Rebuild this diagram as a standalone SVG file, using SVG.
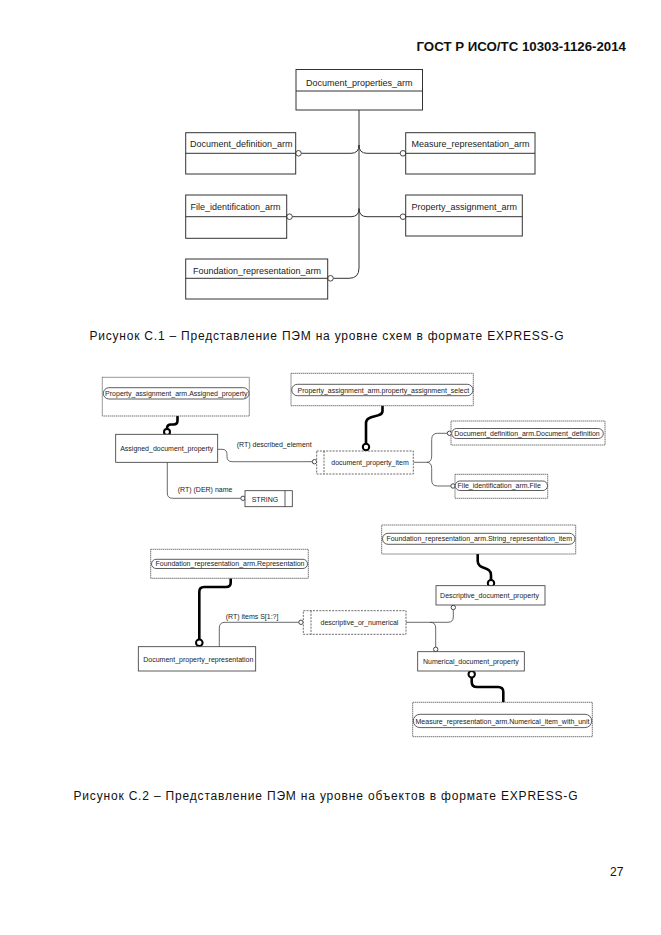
<svg xmlns="http://www.w3.org/2000/svg" width="661" height="935" viewBox="0 0 661 935">
<style>
.bg{fill:#fff}
.t9{font-family:"Liberation Sans",Arial,sans-serif;font-size:9px;fill:#222}
.t7{font-family:"Liberation Sans",Arial,sans-serif;font-size:7px;fill:#222}
.cap{font-family:"Liberation Sans",Arial,sans-serif;font-size:12px;fill:#111}
.hdr{font-family:"Liberation Sans",Arial,sans-serif;font-size:12px;font-weight:bold;fill:#111}
.box1{fill:none;stroke:#333;stroke-width:1}
.ent{fill:#fff;stroke:#333;stroke-width:0.8}
.sel{fill:#fff;stroke:#444;stroke-width:0.8;stroke-dasharray:2 1.2}
.ext{fill:#fff;stroke:#555;stroke-width:0.8;stroke-dasharray:1.5 0.5}
.pill{fill:#fff;stroke:#333;stroke-width:0.8}
.ln{fill:none;stroke:#333;stroke-width:1}
.ln2{fill:none;stroke:#444;stroke-width:0.8}
.thick{fill:none;stroke:#000;stroke-width:2.6}
.oc{fill:#fff;stroke:#333;stroke-width:0.9}
.tc{fill:#fff;stroke:#000;stroke-width:2}
</style>
<rect class="bg" x="0" y="0" width="661" height="935"/>
<text class="hdr" x="416.5" y="50.5" textLength="209.5" lengthAdjust="spacingAndGlyphs">ГОСТ Р ИСО/ТС 10303-1126-2014</text>

<g id="connectors">
  <path class="ln" d="M359,110 V268 Q359,278.3 349,278.3 H333.3"/>
  <path class="ln" d="M301.3,153.3 H351 Q359,153.3 359,145"/>
  <path class="ln" d="M400.2,153.3 H367 Q359,153.3 359,145"/>
  <path class="ln" d="M292.3,216.7 H351 Q359,216.7 359,208.5"/>
  <path class="ln" d="M400.2,216.7 H367 Q359,216.7 359,208.5"/>
  <circle class="oc" cx="298.5" cy="153.3" r="2.8"/>
  <circle class="oc" cx="403" cy="153.3" r="2.8"/>
  <circle class="oc" cx="289.5" cy="216.7" r="2.8"/>
  <circle class="oc" cx="403" cy="216.7" r="2.8"/>
  <circle class="oc" cx="330.5" cy="278.3" r="2.8"/>

  <path class="thick" d="M177.5,416 V420.5 Q177.5,424.5 173.5,424.5 H171 Q167,424.5 167,428.5 V429"/>
  <circle class="tc" cx="167" cy="432" r="3"/>
  <path class="thick" d="M382.5,405.7 V411 C382.5,418.5 366,414 366,423 V443.8"/>
  <circle class="tc" cx="366" cy="447" r="3.2"/>
  <path class="ln2" d="M217.7,449.3 H222 Q227,449.3 227,454.5 V456.5 Q227,461.7 232,461.7 H312.3"/>
  <circle class="oc" cx="314.5" cy="461.7" r="2.2"/>
  <path class="ln2" d="M167.3,462.3 V493 Q167.3,498.3 172.5,498.3 H240.8"/>
  <circle class="oc" cx="243" cy="498.3" r="2.2"/>
  <path class="ln2" d="M413.3,462.3 H426.7 Q431.7,462.3 431.7,456 V439.5 Q431.7,433.3 437.5,433.3 H447.3"/>
  <path class="ln2" d="M426.7,462.3 Q431.7,462.3 431.7,468.5 V480 Q431.7,486 437.5,486 H450.8"/>
  <circle class="oc" cx="449.5" cy="433.3" r="2.2"/>
  <circle class="oc" cx="453" cy="486" r="2.2"/>

  <path class="thick" d="M230.7,578.3 V582.5 Q230.7,587 226,587 H204 Q199.3,587 199.3,592 V639.3"/>
  <circle class="tc" cx="199.3" cy="642.7" r="3.3"/>
  <path class="ln2" d="M219.3,646.7 V628 Q219.3,622.3 225,622.3 H298.8"/>
  <circle class="oc" cx="301" cy="622.3" r="2.2"/>
  <path class="ln2" d="M406,622.3 H448 Q453.3,622.3 453.3,617 V609.7"/>
  <path class="ln2" d="M430,622.3 Q435.7,622.3 435.7,628 V647.1"/>
  <circle class="oc" cx="453.3" cy="607.5" r="2.2"/>
  <circle class="oc" cx="435.7" cy="649.3" r="2.2"/>
  <path class="thick" d="M477.7,554 V561 C477.7,570 491,566 491,575 V580"/>
  <circle class="tc" cx="491" cy="583.3" r="3.2"/>
  <path class="thick" d="M471.7,677.5 V682 Q471.7,687 477,687 H498 Q503.3,687 503.3,692 V702.3"/>
  <circle class="tc" cx="471.7" cy="674.3" r="3.2"/>
</g>

<g id="Document_properties_arm">
  <rect class="box1" x="296" y="69.5" width="126.5" height="40.5"/>
  <line class="box1" x1="296" y1="91" x2="422.5" y2="91"/>
  <text class="t9" x="359.2" y="86.2" text-anchor="middle">Document_properties_arm</text>
</g>
<g id="Document_definition_arm">
  <rect class="box1" x="185.7" y="132.7" width="110" height="41.3"/>
  <line class="box1" x1="185.7" y1="153.3" x2="295.7" y2="153.3"/>
  <text class="t9" x="190" y="146.5">Document_definition_arm</text>
</g>
<g id="Measure_representation_arm">
  <rect class="box1" x="405.7" y="132.7" width="129.3" height="41.3"/>
  <line class="box1" x1="405.7" y1="153.3" x2="535" y2="153.3"/>
  <text class="t9" x="411.5" y="146.5">Measure_representation_arm</text>
</g>
<g id="File_identification_arm">
  <rect class="box1" x="185.7" y="195" width="101" height="43.3"/>
  <line class="box1" x1="185.7" y1="216.7" x2="286.7" y2="216.7"/>
  <text class="t9" x="190.5" y="210">File_identification_arm</text>
</g>
<g id="Property_assignment_arm">
  <rect class="box1" x="405.7" y="195" width="116.6" height="41"/>
  <line class="box1" x1="405.7" y1="216.7" x2="522.3" y2="216.7"/>
  <text class="t9" x="411.5" y="210">Property_assignment_arm</text>
</g>
<g id="Foundation_representation_arm">
  <rect class="box1" x="185.7" y="259" width="142" height="40"/>
  <line class="box1" x1="185.7" y1="278.3" x2="327.7" y2="278.3"/>
  <text class="t9" x="193" y="274">Foundation_representation_arm</text>
</g>

<text class="cap" x="326.5" y="340" text-anchor="middle" textLength="474" lengthAdjust="spacing">Рисунок С.1 –  Представление ПЭМ на уровне схем в формате EXPRESS-G</text>

<g id="Assigned_property_ref">
  <rect class="ext" x="102.3" y="377.3" width="147" height="38.7"/>
  <rect class="pill" x="103.3" y="387.7" width="145.7" height="11.3" rx="5.6"/>
  <text class="t7" x="176.3" y="395.6" text-anchor="middle">Property_assignment_arm.Assigned_property</text>
</g>
<g id="property_assignment_select_ref">
  <rect class="ext" x="291" y="373.3" width="182.3" height="32.4"/>
  <rect class="pill" x="291.7" y="384.3" width="181.3" height="11.4" rx="5.7"/>
  <text class="t7" x="383.3" y="392.5" text-anchor="middle">Property_assignment_arm.property_assignment_select</text>
</g>
<g id="Document_definition_ref">
  <rect class="ext" x="451" y="421" width="154" height="24"/>
  <rect class="pill" x="451.7" y="428.5" width="151.6" height="10" rx="5"/>
  <text class="t7" x="527" y="436" text-anchor="middle">Document_definition_arm.Document_definition</text>
</g>
<g id="File_ref">
  <rect class="ext" x="455" y="474.3" width="92.7" height="24"/>
  <rect class="pill" x="455.2" y="481" width="92.3" height="9.5" rx="4.7"/>
  <text class="t7" x="499.2" y="488.2" text-anchor="middle">File_identification_arm.File</text>
</g>
<g id="Assigned_document_property">
  <rect class="ent" x="115.7" y="434.3" width="102" height="28"/>
  <text class="t7" x="166.7" y="451.3" text-anchor="middle">Assigned_document_property</text>
</g>
<text class="t7" x="236.7" y="446.5">(RT) described_element</text>
<g id="document_property_item">
  <rect class="sel" x="316.7" y="451" width="96.6" height="23"/>
  <line class="sel" x1="324" y1="451" x2="324" y2="474"/>
  <text class="t7" x="370" y="465.3" text-anchor="middle">document_property_item</text>
</g>
<text class="t7" x="177.7" y="491.5">(RT) (DER) name</text>
<g id="STRING">
  <rect class="ent" x="245" y="490.7" width="47.3" height="16"/>
  <line class="ent" x1="285" y1="490.7" x2="285" y2="506.7"/>
  <text class="t7" x="251.7" y="501.5">STRING</text>
</g>

<g id="Representation_ref">
  <rect class="ext" x="150.7" y="549.3" width="157.6" height="29"/>
  <rect class="pill" x="151.5" y="559.3" width="156" height="9.2" rx="4.6"/>
  <text class="t7" x="230" y="566.4" text-anchor="middle">Foundation_representation_arm.Representation</text>
</g>
<g id="String_representation_item_ref">
  <rect class="ext" x="381.7" y="525" width="194" height="29"/>
  <rect class="pill" x="382.5" y="533.3" width="192.5" height="11" rx="5.5"/>
  <text class="t7" x="479.2" y="541.4" text-anchor="middle">Foundation_representation_arm.String_representation_item</text>
</g>
<g id="Descriptive_document_property">
  <rect class="ent" x="436" y="585.7" width="109" height="19.3"/>
  <text class="t7" x="489.5" y="598" text-anchor="middle">Descriptive_document_property</text>
</g>
<text class="t7" x="225.7" y="618.5">(RT) items S[1:?]</text>
<g id="descriptive_or_numerical">
  <rect class="sel" x="303.3" y="610.7" width="102.7" height="23.6"/>
  <line class="sel" x1="311" y1="610.7" x2="311" y2="634.3"/>
  <text class="t7" x="359.5" y="625" text-anchor="middle">descriptive_or_numerical</text>
</g>
<g id="Document_property_representation">
  <rect class="ent" x="138.3" y="646.7" width="117.4" height="24.3"/>
  <text class="t7" x="198.3" y="661.5" text-anchor="middle">Document_property_representation</text>
</g>
<g id="Numerical_document_property">
  <rect class="ent" x="417.7" y="651.7" width="106.6" height="19.3"/>
  <text class="t7" x="470.8" y="664" text-anchor="middle">Numerical_document_property</text>
</g>
<g id="Numerical_item_with_unit_ref">
  <rect class="ext" x="412.7" y="702.3" width="179.6" height="34.4"/>
  <rect class="pill" x="413.3" y="714.3" width="178.4" height="13.3" rx="6.6"/>
  <text class="t7" x="502.5" y="723.5" text-anchor="middle">Measure_representation_arm.Numerical_item_with_unit</text>
</g>

<text class="cap" x="325.5" y="800" text-anchor="middle" textLength="504" lengthAdjust="spacing">Рисунок С.2 –  Представление ПЭМ на уровне объектов в формате EXPRESS-G</text>
<text class="cap" x="610" y="876" font-size="13">27</text>
</svg>
